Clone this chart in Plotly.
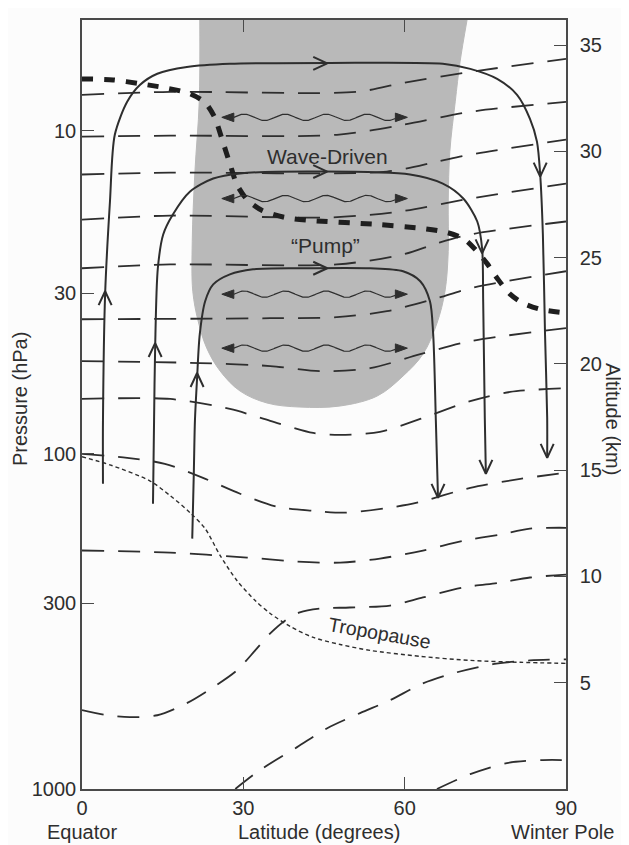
import numpy as np
import plotly.graph_objects as go

# ---------------- axes / ticks ----------------
lat_ticks = [0, 30, 60, 90]
pressure_labels = ["10", "30", "100", "300", "1000"]
pressure_km = [30.97, 23.32, 15.77, 8.73, 0.0]
altitude_ticks = [5, 10, 15, 20, 25, 30, 35]
km_top = 36.18

# ---------------- shaded wave-driving region ----------------
shade_lat = [21.9, 21.8, 21.0, 20.5, 20.6, 21.6, 23.2, 25.7, 29.4, 34.4, 40.5, 48.0,
             54.9, 59.7, 63.4, 66.0, 67.5, 68.1, 68.1, 68.4, 69.4, 70.3, 71.6]
shade_km = [36.18, 32.33, 29.05, 25.76, 23.42, 22.01, 20.74, 19.66, 18.72, 18.16, 17.97, 18.02,
            18.49, 19.43, 20.46, 21.91, 23.42, 25.29, 27.64, 29.99, 32.33, 34.21, 36.18]

# ---------------- dashed isolines (latitude, altitude km) ----------------
iso01_lat = [0, 16.4, 51.1, 59.7, 72.2, 90]
iso01_km = [32.66, 32.80, 32.80, 33.22, 33.74, 34.35]
iso02_lat = [0, 16.4, 47.4, 59.7, 72.2, 90]
iso02_km = [30.69, 30.74, 30.78, 31.25, 31.86, 32.33]
iso03_lat = [0, 16.4, 56.7, 66.0, 72.2, 90]
iso03_km = [28.91, 29.00, 29.05, 29.52, 29.85, 30.55]
iso04_lat = [0, 16.4, 46.1, 59.1, 72.2, 90]
iso04_km = [26.79, 26.98, 26.89, 27.17, 27.78, 28.48]
iso05_lat = [0, 16.4, 47.4, 59.7, 66.0, 72.2, 90]
iso05_km = [24.50, 24.68, 24.68, 25.15, 25.67, 26.09, 26.70]
iso06_lat = [0, 35.0, 47.4, 56.7, 66.0, 72.2, 90]
iso06_km = [22.10, 22.15, 22.20, 22.48, 23.09, 23.56, 24.36]
iso07_lat = [0, 21.9, 35.0, 44.3, 53.6, 62.9, 72.2, 90]
iso07_km = [20.13, 20.04, 19.90, 19.66, 19.80, 20.46, 21.07, 21.68]
iso08_lat = [0, 16.4, 27.5, 35.0, 43.0, 48.0, 55.4, 62.9, 72.2, 79.6, 90]
iso08_km = [18.35, 18.35, 17.88, 17.32, 16.75, 16.66, 16.80, 17.41, 18.25, 18.68, 18.86]
iso09_lat = [0, 8.4, 15.4, 22.5, 29.4, 36.3, 43.0, 48.9, 56.0, 62.3, 72.2, 81.5, 90]
iso09_km = [15.77, 15.58, 15.30, 14.64, 13.89, 13.28, 13.09, 13.00, 13.19, 13.47, 14.17, 14.59, 14.88]
iso10_lat = [0, 16.4, 30.7, 40.0, 48.0, 55.4, 63.4, 70.9, 77.7, 83.3, 90]
iso10_km = [11.22, 11.12, 10.89, 10.70, 10.65, 10.84, 11.22, 11.68, 11.97, 12.25, 12.29]
iso11_lat = [0, 4.7, 8.9, 14.0, 19.5, 24.4, 28.8, 32.2, 35.0, 37.8, 40.5, 44.3, 49.8, 57.3, 63.4, 70.9, 77.7, 83.3, 90]
iso11_km = [3.71, 3.47, 3.38, 3.47, 4.04, 4.79, 5.58, 6.52, 7.32, 7.93, 8.31, 8.49, 8.54, 8.63, 9.01, 9.48, 9.71, 9.95, 10.09]
iso12_lat = [28.5, 33.1, 40.0, 45.6, 51.7, 57.3, 63.4, 69.7, 76.4, 83.3, 90]
iso12_km = [0.0, 0.89, 1.97, 2.86, 3.57, 4.18, 4.97, 5.49, 5.87, 6.05, 6.10]
iso13_lat = [66.0, 72.2, 79.0, 85.7, 90]
iso13_km = [0.0, 0.70, 1.22, 1.36, 1.36]

# ---------------- residual circulation streamlines ----------------
outer_lat = [3.9, 3.9, 4.3, 5.2, 6.1, 8.4, 10.8, 14.0, 19.5, 27.5, 46.1, 67.1, 72.2, 77.2,
             80.9, 83.3, 84.6, 85.2, 85.7, 86.1, 86.5, 86.5]
outer_km = [14.36, 17.32, 23.28, 27.64, 30.78, 32.33, 33.13, 33.65, 33.97, 34.12, 34.16, 34.12,
            33.88, 33.41, 32.66, 31.53, 30.46, 28.91, 26.09, 21.40, 17.46, 15.58]
middle_lat = [13.2, 13.4, 13.6, 14.1, 15.1, 16.9, 20.1, 24.4, 29.4, 44.3, 61.0, 67.1, 70.9,
              73.5, 74.4, 74.6, 74.9, 75.1]
middle_km = [13.42, 17.32, 20.74, 24.50, 26.09, 27.03, 28.11, 28.72, 28.96, 29.05, 28.91, 28.48,
             27.78, 26.70, 25.43, 22.95, 17.46, 14.83]
inner_lat = [20.5, 20.8, 21.0, 21.4, 21.9, 22.9, 24.4, 27.5, 31.8, 40.5, 53.6, 59.7, 62.9,
             64.7, 65.3, 65.8, 66.2]
inner_km = [11.78, 14.97, 17.32, 19.33, 21.40, 22.95, 23.74, 24.21, 24.45, 24.50, 24.50, 24.36,
            23.89, 22.95, 21.40, 17.32, 13.70]

# open arrowheads on the streamlines: tip latitude, tip altitude, direction
arrow_lat = [4.3, 13.6, 21.4, 45.6, 45.6, 45.6, 85.2, 74.4, 86.5, 75.1, 66.2]
arrow_km = [23.42, 20.98, 19.57, 34.14, 29.05, 24.50, 28.81, 25.20, 15.58, 14.83, 13.70]
arrow_dir = ["up", "up", "up", "right", "right", "right", "down", "down", "down", "down", "down"]

# ---------------- thick dashed line (edge of polar vortex) ----------------
vortex_lat = [0, 5.8, 10.8, 15.4, 20.1, 22.9, 24.7, 26.0, 27.5, 28.8, 30.7, 33.5, 37.8, 42.4,
              54.9, 63.4, 67.9, 70.9, 73.1, 75.3, 77.2, 79.6, 82.0, 85.2, 88.9]
vortex_km = [33.41, 33.36, 33.18, 32.99, 32.71, 32.29, 31.58, 30.60, 29.42, 28.44, 27.73, 27.22,
             26.89, 26.75, 26.56, 26.37, 26.18, 25.90, 25.39, 24.73, 24.03, 23.28, 22.86, 22.57, 22.43]

# ---------------- tropopause (fine dotted) ----------------
tropo_lat = [0, 5.2, 12.6, 16.4, 20.1, 22.9, 25.7, 28.8, 32.2, 35.0, 38.7, 43.0, 48.0, 53.6,
             62.9, 72.2, 81.5, 90]
tropo_km = [15.63, 15.25, 14.50, 13.80, 13.00, 12.25, 10.98, 9.81, 8.87, 8.26, 7.65, 7.13, 6.80,
            6.52, 6.24, 6.05, 5.96, 5.91]

# ---------------- wavy two-headed arrows ----------------
wave_km = [31.6, 27.78, 23.28, 20.74]
wave_lat_start = 26.0
wave_lat_end = 60.5

# ---------------- layout constants (page has an 8 px body margin) ----------------
W, H = 621, 837
ML, MR, MT, MB = 74, 63, 10, 56
plot_w = W - ML - MR
plot_h = H - MT - MB
px_lat = plot_w / 90.0
px_km = plot_h / km_top

INK = "#2e2e2e"
FONT = "Liberation Sans, Arial, Helvetica, sans-serif"

fig = go.Figure()

# shading
fig.add_trace(go.Scatter(x=shade_lat, y=shade_km, mode="lines", fill="toself",
                         fillcolor="#b9b9b9", line=dict(color="#b9b9b9", width=1, shape="spline"),
                         hoverinfo="skip", showlegend=False))

# dashed isolines
iso_lines = [(iso01_lat, iso01_km), (iso02_lat, iso02_km), (iso03_lat, iso03_km),
             (iso04_lat, iso04_km), (iso05_lat, iso05_km), (iso06_lat, iso06_km),
             (iso07_lat, iso07_km), (iso08_lat, iso08_km), (iso09_lat, iso09_km),
             (iso10_lat, iso10_km), (iso11_lat, iso11_km), (iso12_lat, iso12_km),
             (iso13_lat, iso13_km)]
for la, km in iso_lines:
    fig.add_trace(go.Scatter(x=la, y=km, mode="lines",
                             line=dict(color=INK, width=1.8, dash="22px,14px", shape="spline", smoothing=0.8),
                             hoverinfo="skip", showlegend=False))

# tropopause
fig.add_trace(go.Scatter(x=tropo_lat, y=tropo_km, mode="lines",
                         line=dict(color=INK, width=1.4, dash="4px,3px", shape="spline", smoothing=0.8),
                         hoverinfo="skip", showlegend=False))

# vortex edge
fig.add_trace(go.Scatter(x=vortex_lat, y=vortex_km, mode="lines",
                         line=dict(color="#1e1e1e", width=5, dash="11px,11px", shape="spline", smoothing=0.8),
                         hoverinfo="skip", showlegend=False))

# streamlines
for la, km in [(outer_lat, outer_km), (middle_lat, middle_km), (inner_lat, inner_km)]:
    fig.add_trace(go.Scatter(x=la, y=km, mode="lines",
                             line=dict(color=INK, width=2.0, shape="spline", smoothing=0.8),
                             hoverinfo="skip", showlegend=False))

# open chevron arrowheads
L_arm, W_arm = 14.0, 6.5
cx, cy = [], []
for la, km, d in zip(arrow_lat, arrow_km, arrow_dir):
    if d == "up":
        a1 = (la - W_arm / px_lat, km - L_arm / px_km)
        a2 = (la + W_arm / px_lat, km - L_arm / px_km)
    elif d == "down":
        a1 = (la - W_arm / px_lat, km + L_arm / px_km)
        a2 = (la + W_arm / px_lat, km + L_arm / px_km)
    else:
        a1 = (la - L_arm / px_lat, km + W_arm / px_km)
        a2 = (la - L_arm / px_lat, km - W_arm / px_km)
    cx += [a1[0], la, a2[0], None]
    cy += [a1[1], km, a2[1], None]
fig.add_trace(go.Scatter(x=cx, y=cy, mode="lines", line=dict(color=INK, width=2.0),
                         hoverinfo="skip", showlegend=False))

# wavy arrows
tri_len, tri_half = 12.0, 4.3
amp_px, period_px = 3.2, 41.0
wx, wy, tx, ty = [], [], [], []
for km in wave_km:
    x0 = wave_lat_start + tri_len / px_lat
    x1 = wave_lat_end - tri_len / px_lat
    xs = np.linspace(x0, x1, 240)
    ys = km + (amp_px / px_km) * np.sin(2 * np.pi * (xs - x0) * px_lat / period_px)
    wx += list(xs) + [None]
    wy += list(ys) + [None]
    tx += [wave_lat_start, x0, x0, wave_lat_start, None]
    ty += [km, km + tri_half / px_km, km - tri_half / px_km, km, None]
    tx += [wave_lat_end, x1, x1, wave_lat_end, None]
    ty += [km, km + tri_half / px_km, km - tri_half / px_km, km, None]
fig.add_trace(go.Scatter(x=wx, y=wy, mode="lines", line=dict(color=INK, width=1.2),
                         hoverinfo="skip", showlegend=False))
fig.add_trace(go.Scatter(x=tx, y=ty, mode="lines", fill="toself", fillcolor=INK,
                         line=dict(color=INK, width=1), hoverinfo="skip", showlegend=False))

# dummy trace for the right axis
fig.add_trace(go.Scatter(x=[None], y=[None], yaxis="y2", showlegend=False, hoverinfo="skip"))

# text labels
fig.add_annotation(x=45.6, y=29.75, text="Wave-Driven", showarrow=False,
                   font=dict(size=21, color=INK, family=FONT))
fig.add_annotation(x=45.2, y=25.55, text="\u201cPump\u201d", showarrow=False,
                   font=dict(size=21, color=INK, family=FONT))
fig.add_annotation(x=55.4, y=7.35, text="Tropopause", showarrow=False, textangle=10,
                   font=dict(size=19.5, color=INK, family=FONT))

for xv, txt in [(0, "Equator"), (44.1, "Latitude (degrees)"), (89.3, "Winter Pole")]:
    fig.add_annotation(x=xv, xref="x", y=0, yref="paper", yshift=-43, text=txt,
                       showarrow=False, xanchor="center", yanchor="middle",
                       font=dict(size=20, color=INK, family=FONT))
fig.add_annotation(x=0, xref="paper", xshift=-62, xanchor="center", y=0.507, yref="paper",
                   text="Pressure (hPa)", textangle=-90, showarrow=False,
                   font=dict(size=20, color=INK, family=FONT))
fig.add_annotation(x=1, xref="paper", xshift=47, xanchor="center", y=0.481, yref="paper",
                   text="Altitude (km)", textangle=90, showarrow=False,
                   font=dict(size=20, color=INK, family=FONT))

axis_common = dict(showgrid=False, zeroline=False, showline=True, linecolor="#4a4a4a",
                   linewidth=1.5, ticks="inside", ticklen=12, tickcolor="#4a4a4a", tickwidth=1.3,
                   tickfont=dict(size=20, color=INK, family=FONT))

fig.update_layout(
    width=W, height=H,
    margin=dict(l=ML, r=MR, t=MT, b=MB),
    paper_bgcolor="#fcfcfc", plot_bgcolor="#fcfcfc",
    showlegend=False,
    xaxis=dict(range=[0, 90], tickvals=lat_ticks, mirror="ticks", **axis_common),
    yaxis=dict(range=[0, km_top], tickvals=pressure_km, ticktext=pressure_labels, **axis_common),
    yaxis2=dict(range=[0, km_top], tickvals=altitude_ticks, overlaying="y", side="right",
                ticklabelstandoff=8, **axis_common),
)

fig.write_html("out.html")
